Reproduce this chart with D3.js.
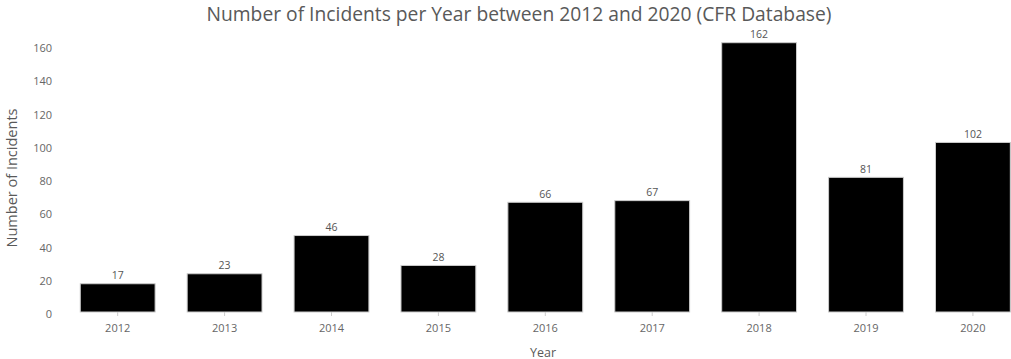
<!DOCTYPE html>
<html>
<head>
<meta charset="utf-8">
<script src="https://cdn.jsdelivr.net/npm/d3@7"></script>
<style>
  html, body { margin: 0; padding: 0; background: #fff; overflow: hidden; }
  svg { display: block; font-family: "Open Sans", "Noto Sans", sans-serif; }
</style>
</head>
<body>
<svg id="chart" width="1011" height="359"></svg>
<script>
// Incidents per year (CFR database)
const years = ["2012", "2013", "2014", "2015", "2016", "2017", "2018", "2019", "2020"];
const incidents = [17, 23, 46, 28, 66, 67, 162, 81, 102];
const yTicks = [0, 20, 40, 60, 80, 100, 120, 140, 160];

const titleText = "Number of Incidents per Year between 2012 and 2020 (CFR Database)";
const xTitle = "Year";
const yTitle = "Number of Incidents";

const svg = d3.select("#chart");

const x = d3.scaleBand()
  .domain(years)
  .range([48.2, 1042.4])
  .paddingInner(0.3)
  .paddingOuter(0.3);

const y = d3.scaleLinear()
  .domain([0, d3.max(incidents)])
  .range([312, 42.7]);

const data = years.map((yr, i) => ({ year: yr, value: incidents[i] }));

// fit a text element's font size so its rendered width matches a target
function fitWidth(sel, target) {
  const node = sel.node();
  const fs = parseFloat(sel.attr("font-size"));
  const w = node.getComputedTextLength();
  if (w > 0) sel.attr("font-size", (fs * target / w).toFixed(2));
}

// title
const title = svg.append("text")
  .attr("x", 519)
  .attr("y", 21)
  .attr("text-anchor", "middle")
  .attr("font-size", 18)
  .attr("fill", "#595959")
  .text(titleText);
fitWidth(title, 625);

// y axis: labels only
const yAxis = svg.append("g")
  .attr("transform", "translate(52,0)")
  .style("color", "#666")
  .call(d3.axisLeft(y).tickValues(yTicks).tickSize(0).tickPadding(0));
yAxis.select(".domain").remove();
yAxis.selectAll("text")
  .style("fill", "#666")
  .attr("font-size", 11)
  .attr("dy", "0.5em")
  .attr("font-family", "\"Open Sans\", \"Noto Sans\", sans-serif");

// x axis: short ticks under each band
const xAxis = svg.append("g")
  .attr("transform", "translate(0,312)")
  .style("color", "#666")
  .call(d3.axisBottom(x).tickSize(4).tickPadding(8));
xAxis.select(".domain").remove();
xAxis.selectAll(".tick line").attr("stroke", "#ccc");
xAxis.selectAll("text")
  .style("fill", "#666")
  .attr("font-size", 11)
  .attr("font-family", "\"Open Sans\", \"Noto Sans\", sans-serif");

// bars
svg.append("g")
  .selectAll("rect")
  .data(data)
  .join("rect")
  .attr("x", d => x(d.year))
  .attr("y", d => y(d.value))
  .attr("width", x.bandwidth())
  .attr("height", d => y(0) - y(d.value))
  .attr("fill", "#000")
  .attr("stroke", "#ccc")
  .attr("stroke-width", 1);

// value labels
svg.append("g")
  .selectAll("text")
  .data(data)
  .join("text")
  .attr("x", d => x(d.year) + x.bandwidth() / 2)
  .attr("y", d => y(d.value) - 4.5)
  .attr("text-anchor", "middle")
  .attr("font-size", 10.5)
  .attr("fill", "#555")
  .text(d => d.value);

// axis titles
svg.append("text")
  .attr("x", 543)
  .attr("y", 356.5)
  .attr("text-anchor", "middle")
  .attr("font-size", 12.5)
  .attr("fill", "#595959")
  .text(xTitle);

const yT = svg.append("text")
  .attr("transform", "translate(16.5,178) rotate(-90)")
  .attr("text-anchor", "middle")
  .attr("font-size", 14)
  .attr("fill", "#595959")
  .text(yTitle);
fitWidth(yT, 139);
</script>
</body>
</html>
